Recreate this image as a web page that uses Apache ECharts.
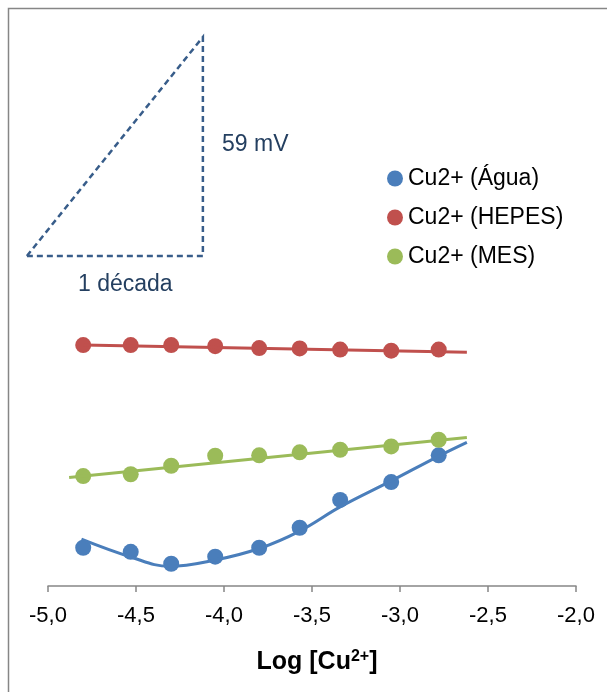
<!DOCTYPE html>
<html>
<head>
<meta charset="utf-8">
<script src="https://cdn.jsdelivr.net/npm/echarts@6/dist/echarts.min.js"></script>
<style>
    html, body { margin: 0; padding: 0; background: #fff; }
    #main { width: 607px; height: 692px; }
</style>
</head>
<body>
<div id="main"></div>
<script>
    // log [Cu2+] of each addition
    var logCu = [-4.80, -4.53, -4.30, -4.05, -3.80, -3.57, -3.34, -3.05, -2.78];
    // potential (mV, arbitrary offset)
    var agua  = [10.3, 9.2, 6.0, 7.9, 10.3, 15.7, 23.2, 28.0, 35.2];
    var hepes = [64.9, 64.9, 64.9, 64.6, 64.1, 64.0, 63.7, 63.4, 63.7];
    var mes   = [29.6, 30.1, 32.4, 35.1, 35.2, 36.0, 36.7, 37.6, 39.4];

    // trendlines
    var aguaFitX = [-4.81, -4.53, -4.31, -4.05, -3.80, -3.57, -3.34, -3.05, -2.78, -2.62];
    var aguaFitY = [12.6, 7.8, 5.3, 7.0, 10.1, 14.8, 21.3, 28.3, 35.0, 38.7];
    var hepesFitX = [-4.80, -2.62];
    var hepesFitY = [64.9, 63.0];
    var mesFitX = [-4.88, -2.62];
    var mesFitY = [29.2, 40.0];

    // scale triangle: 1 decade x 59 mV
    var triX = [-5.12, -4.12, -4.12, -5.12];
    var triY = [88.9, 147.9, 88.9, 88.9];

    var xTicks = ['-5,0', '-4,5', '-4,0', '-3,5', '-3,0', '-2,5', '-2,0'];
    var names = ['Cu2+ (Água)', 'Cu2+ (HEPES)', 'Cu2+ (MES)'];
    var colors = ['#4A7EBB', '#C0504D', '#9BBB59'];

    function pairs(xs, ys) {
        var out = [];
        for (var i = 0; i < xs.length; i++) out.push([xs[i], ys[i]]);
        return out;
    }

    var font = '"Liberation Sans", Arial, sans-serif';
    var myChart = echarts.init(document.getElementById('main'));

    var option = {
        animation: false,
        textStyle: { fontFamily: font },
        grid: { left: 48, right: 31, top: 29.2, bottom: 106 },
        legend: {
            data: names,
            orient: 'vertical',
            left: 382,
            top: 162,
            icon: 'circle',
            itemWidth: 16,
            itemHeight: 16,
            itemGap: 16,
            textStyle: { fontSize: 23, color: '#000', fontFamily: font }
        },
        xAxis: {
            type: 'value',
            min: -5,
            max: -2,
            interval: 0.5,
            axisLine: { show: true, lineStyle: { color: '#868686', width: 1.5 } },
            axisTick: { show: true, inside: false, length: 6, lineStyle: { color: '#868686', width: 1.5 } },
            splitLine: { show: false },
            axisLabel: {
                margin: 19,
                fontSize: 22,
                color: '#000',
                fontFamily: font,
                formatter: function (v) {
                    return xTicks[Math.round((v + 5) / 0.5)];
                }
            },
            name: '{b|Log [Cu}{s|2+}{b|]}',
            nameLocation: 'middle',
            nameGap: 63,
            nameTextStyle: {
                padding: [0, 0, 0, 10],
                rich: {
                    b: { fontSize: 25, fontWeight: 'bold', color: '#000', fontFamily: font },
                    s: { fontSize: 16, fontWeight: 'bold', color: '#000', fontFamily: font, verticalAlign: 'top', padding: [0, 0, 10, 0] }
                }
            }
        },
        yAxis: {
            type: 'value',
            min: 0,
            max: 150,
            show: false
        },
        series: [
            {
                name: 'fitAgua',
                type: 'line',
                data: pairs(aguaFitX, aguaFitY),
                smooth: 0.4,
                symbol: 'none',
                lineStyle: { color: colors[0], width: 3 }
            },
            {
                name: 'fitHepes',
                type: 'line',
                data: pairs(hepesFitX, hepesFitY),
                symbol: 'none',
                lineStyle: { color: colors[1], width: 3 }
            },
            {
                name: 'fitMes',
                type: 'line',
                data: pairs(mesFitX, mesFitY),
                symbol: 'none',
                lineStyle: { color: colors[2], width: 3 }
            },
            {
                name: names[0],
                type: 'scatter',
                data: pairs(logCu, agua),
                symbolSize: 16,
                itemStyle: { color: colors[0], opacity: 1 }
            },
            {
                name: names[1],
                type: 'scatter',
                data: pairs(logCu, hepes),
                symbolSize: 16,
                itemStyle: { color: colors[1], opacity: 1 }
            },
            {
                name: names[2],
                type: 'scatter',
                data: pairs(logCu, mes),
                symbolSize: 16,
                itemStyle: { color: colors[2], opacity: 1 }
            }
        ]
    };
    myChart.setOption(option);

    // triangle sits partly left of x=-5, so draw it as a graphic from data coords
    var triPts = pairs(triX, triY).map(function (p) {
        return myChart.convertToPixel({ gridIndex: 0 }, p);
    });
    myChart.setOption({
        graphic: [
            {
                type: 'rect',
                shape: { x: 8.5, y: 8.5, width: 700, height: 800 },
                style: { fill: 'none', stroke: '#868686', lineWidth: 1.5 },
                silent: true
            },
            {
                type: 'polyline',
                shape: { points: triPts },
                style: { fill: 'none', stroke: '#385D8A', lineWidth: 2.5, lineDash: [6, 4] },
                silent: true
            },
            {
                type: 'text',
                left: 222,
                top: 133,
                style: { text: '59 mV', fontSize: 23, fill: '#243F60', fontFamily: font }
            },
            {
                type: 'text',
                left: 78,
                top: 273,
                style: { text: '1 década', fontSize: 23, fill: '#243F60', fontFamily: font }
            }
        ]
    });
</script>
</body>
</html>
